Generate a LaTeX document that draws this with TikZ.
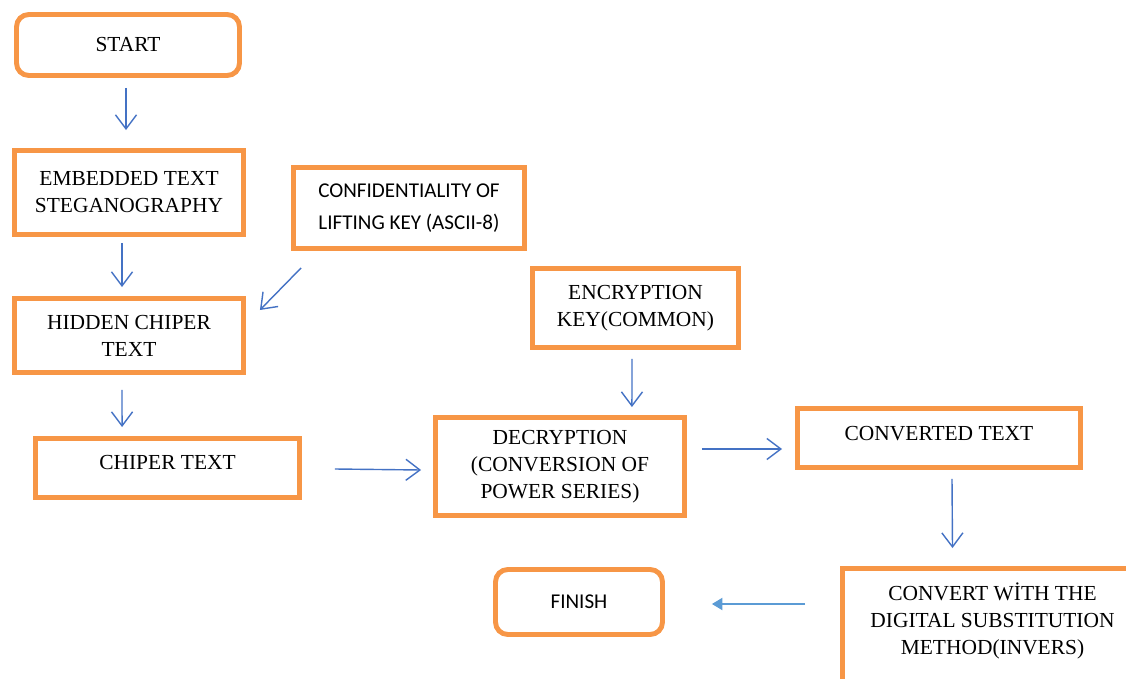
\documentclass[tikz,border=0pt]{standalone}
\usepackage{fontspec}
\setmainfont{Liberation Serif}
\newfontfamily\calibri{Carlito}
\usetikzlibrary{arrows.meta}
\definecolor{boxorange}{HTML}{F79646}
\definecolor{arrowblue}{HTML}{4472C4}
\definecolor{lightblue}{HTML}{5B9BD5}

\begin{document}
\begin{tikzpicture}[x=0.02cm, y=-0.02cm]
    \tikzstyle{every node}=[draw=boxorange, line width=2.8pt, fill=white, inner sep=2pt, align=center, font=\fontsize{12.2}{15.3}\selectfont, text=black]
    \tikzstyle{edge}=[arrowblue, line width=0.8pt, -{Straight Barb[length=8pt,width=12pt]}]

    \useasboundingbox (0,0) rectangle (1126,679);

    \node[rounded corners=7pt, minimum width=4.46cm, minimum height=1.22cm] (start) at (128,45) {START};
    \node[minimum width=4.58cm, minimum height=1.68cm] (embed) at (129,192.5) {EMBEDDED TEXT\\STEGANOGRAPHY};
    \node[minimum width=4.62cm, minimum height=1.62cm, font=\calibri\fontsize{12}{18}\selectfont] (conf) at (409,208) {CONFIDENTIALITY OF\\LIFTING KEY (ASCII-8)};
    \node[minimum width=4.58cm, minimum height=1.48cm] (hidden) at (129,335.5) {HIDDEN CHIPER\\TEXT};
    \node[minimum width=5.28cm, minimum height=1.18cm, text depth=6.8pt] (chiper) at (167.5,468) {CHIPER TEXT};
    \node[minimum width=4.12cm, minimum height=1.58cm] (enckey) at (635.5,308) {ENCRYPTION\\KEY(COMMON)};
    \node[minimum width=4.98cm, minimum height=1.96cm] (decrypt) at (560,466.5) {DECRYPTION\\(CONVERSION OF\\POWER SERIES)};
    \node[minimum width=5.66cm, minimum height=1.18cm, text depth=5.7pt] (converted) at (939,438) {CONVERTED TEXT};
    \node[minimum width=6cm, minimum height=2.62cm, text depth=17.5pt] (convert) at (992.5,634) {CONVERT WİTH THE\\DIGITAL SUBSTITUTION\\METHOD(INVERS)};
    \node[rounded corners=7pt, minimum width=3.34cm, minimum height=1.3cm, font=\calibri\fontsize{12}{15}\selectfont] (finish) at (579,602) {FINISH};

    \draw[edge] ([shift={(-2,10)}]start.south) -- ([shift={(-3,-18)}]embed.north);
    \draw[edge] ([shift={(-7,6)}]embed.south) -- ([shift={(-7,-9)}]hidden.north);
    \draw[edge] ([shift={(10,17)}]conf.south west) -- ([shift={(14,-25.5)}]hidden.east);
    \draw[edge] ([shift={(-7,15)}]hidden.south) -- ([shift={(89,-9)}]chiper.north west);
    \draw[edge] ([shift={(33,1)}]chiper.east) -- ([shift={(-12,3.5)}]decrypt.west);
    \draw[edge] ([shift={(-3.5,9)}]enckey.south) -- ([shift={(-55,-8)}]decrypt.north east);
    \draw[edge] ([shift={(15,-17.5)}]decrypt.east) -- ([shift={(-13,11)}]converted.west);
    \draw[edge] ([shift={(13,9)}]converted.south) -- ([shift={(-40,-18)}]convert.north);

    \tikzstyle{edge}=[lightblue, line width=0.8pt, -{Triangle[length=6pt,width=7pt]}]
    \draw[edge] ([shift={(-35,-30)}]convert.west) -- ([shift={(47,2)}]finish.east);
\end{tikzpicture}
\end{document}
